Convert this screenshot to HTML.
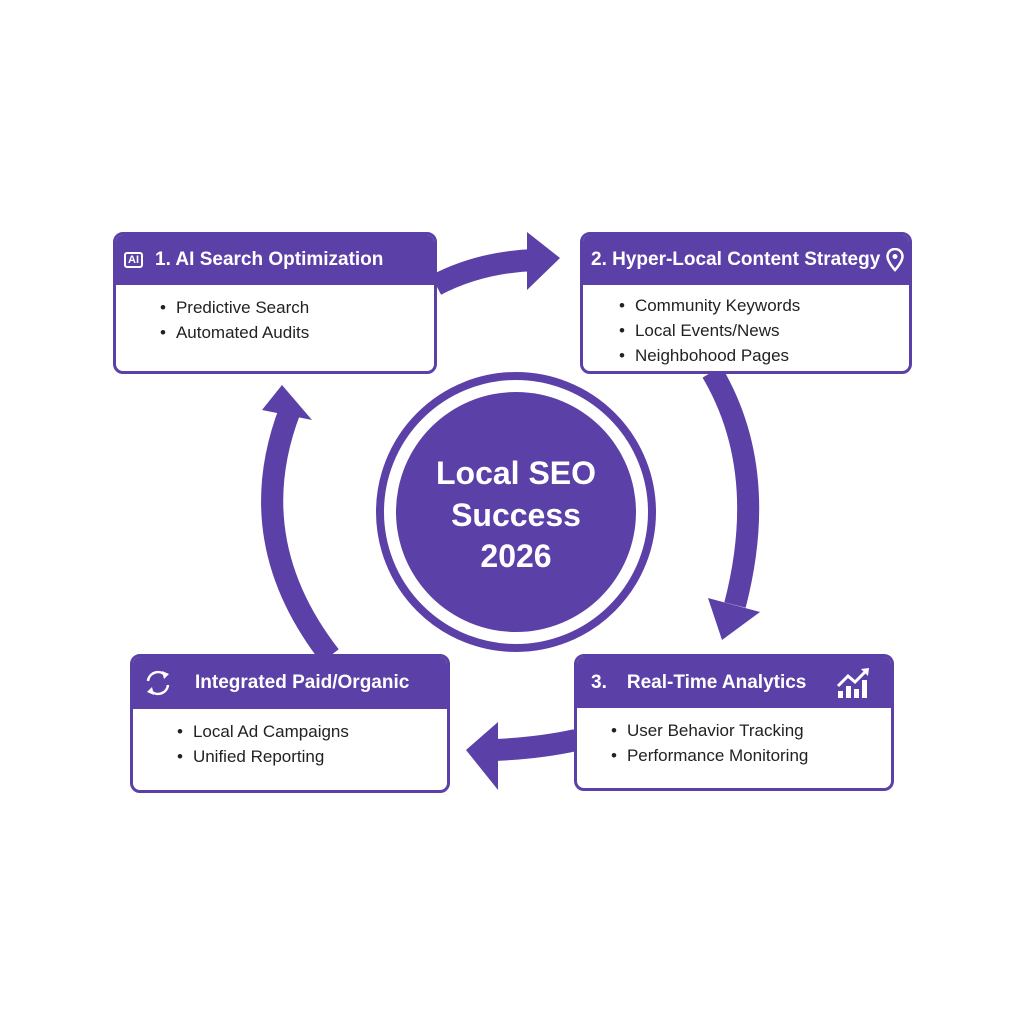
<!DOCTYPE html>
<html><head><meta charset="utf-8"><style>
body{margin:0;width:1024px;height:1024px;background:#fff;font-family:"Liberation Sans",Arial,sans-serif;position:relative;overflow:hidden}
.box{position:absolute;border:3px solid #5b40a8;border-radius:10px;background:#fff;box-sizing:border-box;overflow:hidden}
.hd{background:#5b40a8;color:#fff;font-weight:bold;font-size:19px;display:flex;align-items:center;box-sizing:border-box}
.bd{font-size:17px;color:#222;line-height:25px;padding-top:10px}
.bd div:before{content:"•";margin-right:10px}
</style></head><body>
<svg width="1024" height="1024" style="position:absolute;left:0;top:0">
<g fill="none" stroke="#5b40a8" stroke-width="22">
<path d="M436 285 Q480 262 535 260"/>
<path d="M712 372 Q770 470 735 605"/>
<path d="M576 740 Q540 748 495 750"/>
<path d="M330 656 Q240 540 290 410"/>
</g>
<g fill="#5b40a8">
<polygon points="527,232 560,258 527,290"/>
<polygon points="708,598 760,612 722,640"/>
<polygon points="498,722 466,750 498,790"/>
<polygon points="262,410 282,385 312,420"/>
<circle cx="516" cy="512" r="136" fill="none" stroke="#5b40a8" stroke-width="8"/>
<circle cx="516" cy="512" r="120"/>
</g>
<text x="516" y="484" text-anchor="middle" fill="#fff" font-size="32" font-weight="bold" font-family="Liberation Sans">Local SEO</text>
<text x="516" y="526" text-anchor="middle" fill="#fff" font-size="32" font-weight="bold" font-family="Liberation Sans">Success</text>
<text x="516" y="567" text-anchor="middle" fill="#fff" font-size="32" font-weight="bold" font-family="Liberation Sans">2026</text>
</svg>
<div class="box" style="left:113px;top:232px;width:324px;height:142px">
<div class="hd" style="height:50px;padding-left:8px"><span style="border:2px solid #fff;border-radius:3px;font-size:11px;padding:0 2px;margin-right:12px">AI</span>1. AI Search Optimization</div>
<div class="bd" style="padding-left:44px"><div>Predictive Search</div><div>Automated Audits</div></div></div>
<div class="box" style="left:580px;top:232px;width:332px;height:142px">
<div class="hd" style="height:50px;padding-left:8px">2. Hyper-Local Content Strategy
<svg width="18" height="24" style="margin-left:6px" viewBox="0 0 18 24"><path d="M9 1C4.5 1 1.5 4.5 1.5 8.5 1.5 14 9 22 9 22s7.5-8 7.5-13.5C16.5 4.5 13.5 1 9 1z" fill="none" stroke="#fff" stroke-width="2.5"/><circle cx="9" cy="8.5" r="2.5" fill="#fff"/></svg></div>
<div class="bd" style="padding-left:36px;padding-top:8px"><div>Community Keywords</div><div>Local Events/News</div><div>Neighbohood Pages</div></div></div>
<div class="box" style="left:574px;top:654px;width:320px;height:137px">
<div class="hd" style="height:51px;padding-left:14px"><span style="margin-right:20px">3.</span>Real-Time Analytics
<svg width="34" height="32" style="margin-left:30px" viewBox="0 0 34 32"><g fill="#fff"><rect x="2" y="24" width="5" height="7"/><rect x="10" y="19" width="5" height="12"/><rect x="18" y="22" width="5" height="9"/><rect x="26" y="13" width="5" height="18"/></g><path d="M2 19 L12 9 L19 15 L30 4" fill="none" stroke="#fff" stroke-width="3"/><polygon points="25,2 33,1 32,9" fill="#fff"/></svg></div>
<div class="bd" style="padding-left:34px"><div>User Behavior Tracking</div><div>Performance Monitoring</div></div></div>
<div class="box" style="left:130px;top:654px;width:320px;height:139px">
<div class="hd" style="height:52px;padding-left:10px"><svg width="30" height="30" viewBox="0 0 30 30" style="margin-right:22px"><g fill="none" stroke="#fff" stroke-width="2.5"><path d="M5 13 A10 10 0 0 1 22 7"/><path d="M25 17 A10 10 0 0 1 8 23"/></g><polygon points="19,3 26,6 21,11" fill="#fff"/><polygon points="11,27 4,24 9,19" fill="#fff"/></svg>Integrated Paid/Organic</div>
<div class="bd" style="padding-left:44px"><div>Local Ad Campaigns</div><div>Unified Reporting</div></div></div>
</body></html>
